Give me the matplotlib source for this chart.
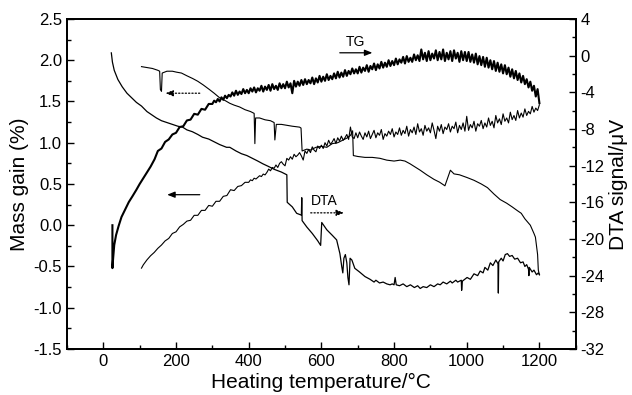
import matplotlib
matplotlib.use("Agg")
import matplotlib.pyplot as plt
from matplotlib.ticker import MultipleLocator

# ===========================
# DATA
# ===========================
# TG, heating run (mass gain %, left axis)
# low-temperature part, coarse steps
tg_heat_t_lo = [25, 25, 27, 30, 35, 42, 50, 60, 70, 80, 91, 100, 110, 120, 130, 141,
                150, 160, 170, 180, 190, 200, 210, 220, 230, 240, 250, 260, 270, 280, 290]
tg_heat_lo = [0.0, -0.52, -0.40, -0.24, -0.12, -0.01, 0.10, 0.19, 0.28, 0.35, 0.43, 0.50, 0.57, 0.64, 0.71, 0.80,
              0.90, 0.93, 1.01, 1.04, 1.10, 1.12, 1.19, 1.20, 1.27, 1.28, 1.35, 1.34, 1.41, 1.40, 1.47]
# 300..1200 degC, every 5 degC (noisy band)
tg_heat_t_hi = list(range(300, 1201, 5))
tg_heat_hi = [1.47, 1.51, 1.49, 1.53, 1.50, 1.55, 1.52, 1.57, 1.54, 1.58,
              1.56, 1.61, 1.57, 1.63, 1.58, 1.62, 1.59, 1.65, 1.60, 1.64,
              1.60, 1.66, 1.62, 1.67, 1.61, 1.66, 1.63, 1.69, 1.62, 1.68,
              1.64, 1.70, 1.63, 1.71, 1.65, 1.69, 1.64, 1.72, 1.66, 1.71,
              1.66, 1.74, 1.67, 1.72, 1.60, 1.75, 1.68, 1.74, 1.69, 1.76,
              1.70, 1.77, 1.71, 1.76, 1.72, 1.79, 1.71, 1.78, 1.73, 1.81,
              1.74, 1.80, 1.75, 1.83, 1.76, 1.81, 1.77, 1.84, 1.78, 1.86,
              1.79, 1.85, 1.80, 1.88, 1.81, 1.87, 1.83, 1.90, 1.84, 1.89,
              1.84, 1.92, 1.85, 1.91, 1.87, 1.94, 1.86, 1.93, 1.89, 1.96,
              1.88, 1.95, 1.90, 1.98, 1.91, 1.97, 1.92, 2.00, 1.93, 1.99,
              1.94, 2.02, 1.95, 2.01, 1.97, 2.04, 1.96, 2.05, 1.98, 2.03,
              1.98, 2.07, 2.00, 2.06, 1.99, 2.13, 2.01, 2.09, 1.99, 2.11,
              2.00, 2.08, 2.02, 2.12, 2.00, 2.10, 2.01, 2.13, 1.99, 2.09,
              2.01, 2.11, 1.99, 2.12, 2.02, 2.09, 1.98, 2.11, 2.00, 2.10,
              1.99, 2.10, 1.98, 2.07, 1.97, 2.08, 1.95, 2.05, 1.94, 2.04,
              1.92, 2.03, 1.91, 2.00, 1.89, 1.99, 1.87, 1.97, 1.86, 1.95,
              1.84, 1.94, 1.83, 1.91, 1.80, 1.89, 1.78, 1.87, 1.76, 1.84,
              1.73, 1.81, 1.71, 1.77, 1.67, 1.74, 1.63, 1.69, 1.56, 1.65,
              1.48]

# TG, cooling run (mass gain %, left axis)
tg_cool_t_lo = [105, 110, 120, 130, 140, 150, 160, 170, 180, 190, 200, 210, 220, 230, 240,
                250, 260, 270, 280, 290, 300, 310, 320, 330, 340, 350, 360, 370, 380, 390]
tg_cool_lo = [-0.52, -0.48, -0.42, -0.37, -0.33, -0.28, -0.24, -0.19, -0.16, -0.10, -0.08, -0.02, 0.01, 0.05, 0.06,
              0.12, 0.12, 0.18, 0.18, 0.24, 0.23, 0.29, 0.29, 0.35, 0.36, 0.43, 0.42, 0.47, 0.48, 0.52]
# 400..1200 degC, every 5 degC
tg_cool_t_hi = list(range(400, 1201, 5))
tg_cool_hi = [0.52, 0.55, 0.54, 0.57, 0.56, 0.58, 0.60, 0.59, 0.62, 0.61,
              0.64, 0.68, 0.66, 0.70, 0.69, 0.73, 0.70, 0.75, 0.77, 0.74,
              0.72, 0.81, 0.79, 0.83, 0.80, 0.86, 0.83, 0.85, 0.88, 0.84,
              0.79, 0.90, 0.87, 0.92, 0.88, 0.95, 0.91, 0.89, 0.96, 0.93,
              0.97, 0.93, 1.00, 0.96, 1.03, 0.98, 1.01, 1.05, 0.99, 1.06,
              1.02, 1.08, 1.03, 1.06, 1.10, 1.04, 1.19, 1.07, 1.05, 1.12,
              1.06, 1.13, 1.08, 1.04, 1.12, 1.07, 1.14, 1.05, 1.10, 1.15,
              1.06, 1.12, 1.09, 1.16, 1.04, 1.11, 1.08, 1.14, 1.10, 1.17,
              1.07, 1.13, 1.10, 1.18, 1.09, 1.15, 1.11, 1.20, 1.08, 1.16,
              1.12, 1.19, 1.10, 1.23, 1.13, 1.17, 1.09, 1.21, 1.14, 1.18,
              1.12, 1.24, 1.15, 1.05, 1.20, 1.14, 1.22, 1.11, 1.19, 1.16,
              1.23, 1.13, 1.20, 1.17, 1.25, 1.12, 1.21, 1.16, 1.24, 1.14,
              1.32, 1.15, 1.22, 1.18, 1.26, 1.14, 1.23, 1.20, 1.27, 1.17,
              1.24, 1.19, 1.30, 1.21, 1.26, 1.18, 1.33, 1.24, 1.29, 1.22,
              1.35, 1.26, 1.30, 1.24, 1.37, 1.28, 1.33, 1.27, 1.39, 1.30,
              1.36, 1.31, 1.41, 1.33, 1.38, 1.35, 1.44, 1.37, 1.42, 1.39,
              1.46]

# DTA, heating run (uV, right axis)
dta_heat_t = [22, 25, 30, 40, 52, 65, 78, 91, 105, 120, 135, 146, 160, 175, 190, 205, 218,
              230, 245, 260, 273, 290, 305, 320, 339, 348, 365, 380, 395, 410, 425, 439,
              455, 470, 490, 505, 506, 520, 532, 545, 546, 547, 560, 575, 590, 598, 601,
              615, 630, 642, 651, 656, 659, 662, 666, 670, 673, 676, 679, 684, 692, 705,
              720, 734, 745, 750, 760, 770, 780, 789, 795, 800, 803, 806, 815, 825, 835,
              845, 856, 865, 872, 880, 890, 900, 910, 920, 927, 935, 945, 955, 960, 970,
              975, 985, 986, 988, 1001, 1010, 1020, 1030, 1037, 1045, 1050, 1058, 1065,
              1072, 1080, 1086, 1087, 1088, 1095, 1100, 1106, 1112, 1118, 1125, 1132,
              1140, 1148, 1155, 1160, 1165, 1170, 1171, 1172, 1180, 1185, 1192, 1197, 1200]
dta_heat = [0.3, -0.7, -1.6, -2.6, -3.4, -4.1, -4.6, -5.1, -5.5, -6.1, -6.5, -6.8, -7.1, -7.3, -7.5, -7.7, -7.8,
            -8.1, -8.3, -8.6, -8.9, -9.1, -9.4, -9.7, -10.0, -10.0, -10.4, -10.7, -10.9, -11.2, -11.5, -11.8,
            -12.1, -12.4, -12.7, -13.0, -16.0, -16.5, -17.2, -17.4, -15.5, -18.0, -18.7, -19.4, -20.2, -20.7, -18.2,
            -19.0, -19.6, -20.1, -21.6, -23.0, -23.7, -22.1, -21.7, -22.6, -24.2, -25.0, -22.1, -22.3, -23.2, -23.6,
            -24.1, -24.4, -24.7, -24.5, -24.8, -24.7, -24.9, -25.0, -24.9, -25.0, -24.2, -25.0, -25.1, -24.9, -25.2,
            -25.0, -25.3, -25.1, -25.4, -25.2, -25.3, -25.0, -25.2, -24.9, -25.0, -24.7, -24.9, -24.6, -24.8, -24.5,
            -24.7, -24.5, -25.6, -24.6, -24.2, -24.4, -23.8, -24.0, -23.5, -23.7, -23.1, -23.4, -22.6,
            -22.9, -22.3, -22.7, -25.9, -22.5, -22.1, -22.4, -21.7, -21.6, -21.9, -21.8, -22.2,
            -22.1, -22.6, -22.5, -23.0, -22.8, -23.3, -24.0, -23.1, -23.6, -23.4, -23.9, -23.7, -23.9]

# DTA, cooling run (uV, right axis)
dta_cool_t = [105, 120, 135, 150, 155, 157, 160, 162, 175, 190, 201, 215, 230, 246, 260, 275,
              292, 305, 320, 335, 348, 360, 375, 390, 405, 415, 417, 419, 430, 445, 460, 470,
              472, 476, 490, 505, 520, 540, 544, 547, 560, 570, 585, 600, 615, 630, 645, 660,
              670, 680, 686, 688, 700, 720, 740, 761, 780, 800, 817, 830, 844, 860, 872, 890,
              910, 925, 940, 955, 965, 980, 1001, 1020, 1040, 1057, 1075, 1092, 1110, 1125,
              1139, 1150, 1160, 1175, 1185, 1189, 1195, 1197, 1200]
dta_cool = [-1.2, -1.3, -1.4, -1.6, -1.7, -3.7, -3.9, -1.9, -1.7, -1.7, -1.8, -1.9, -2.2, -2.5, -2.8, -3.2,
            -3.7, -4.1, -4.6, -4.9, -5.2, -5.4, -5.6, -5.9, -6.1, -6.3, -9.6, -6.8, -6.8, -7.0, -7.1, -7.3,
            -9.2, -7.5, -7.5, -7.6, -7.7, -7.8, -7.9, -10.4, -10.2, -10.3, -10.0, -9.9, -10.0, -9.6, -9.5, -9.2,
            -9.0, -8.7, -8.2, -10.9, -11.0, -11.1, -11.1, -11.2, -11.4, -11.5, -11.4, -11.5, -11.8, -12.2, -12.5, -13.0,
            -13.5, -13.8, -14.2, -12.5, -12.9, -13.0, -13.3, -13.6, -14.0, -14.4, -15.1, -15.7, -16.1, -16.5,
            -16.9, -17.2, -17.8, -18.5, -19.4, -19.8, -21.7, -23.4, -23.9]

# ===========================
# PLOT
# ===========================
plt.rcParams['font.family'] = ['Liberation Sans', 'DejaVu Sans']
plt.rcParams['axes.unicode_minus'] = False

fig = plt.figure(figsize=(6.32, 3.95), dpi=100)
ax = fig.add_axes([0.106, 0.1165, 0.805, 0.8355])
ax2 = ax.twinx()

ax.plot(tg_heat_t_lo + tg_heat_t_hi, tg_heat_lo + tg_heat_hi, color='black', lw=1.5)
ax.plot(tg_cool_t_lo + tg_cool_t_hi, tg_cool_lo + tg_cool_hi, color='black', lw=0.8)
ax2.plot(dta_heat_t, dta_heat, color='black', lw=0.9)
ax2.plot(dta_cool_t, dta_cool, color='black', lw=0.8)

ax.set_xlim(-100, 1300)
ax.set_ylim(-1.5, 2.5)
ax2.set_ylim(-32, 4)

ax.xaxis.set_major_locator(MultipleLocator(200))
ax.xaxis.set_minor_locator(MultipleLocator(100))
ax.yaxis.set_major_locator(MultipleLocator(0.5))
ax.yaxis.set_minor_locator(MultipleLocator(0.25))
ax2.yaxis.set_major_locator(MultipleLocator(4))
ax2.yaxis.set_minor_locator(MultipleLocator(2))

ax.tick_params(which='both', direction='in', top=False, right=False, labelsize=12, width=1)
ax.tick_params(which='major', length=5)
ax.tick_params(which='minor', length=3)
ax2.tick_params(which='both', direction='in', labelsize=12, width=1)
ax2.tick_params(which='major', length=5)
ax2.tick_params(which='minor', length=3)

for a in (ax, ax2):
    for sp in a.spines.values():
        sp.set_linewidth(1.3)

ax.set_xlabel("Heating temperature/°C", fontsize=15)
ax.set_ylabel("Mass gain (%)", fontsize=15)
ax2.set_ylabel("DTA signal/μV", fontsize=15)
ax.xaxis.set_label_coords(0.5, -0.072)
ax.yaxis.set_label_coords(-0.075, 0.5)
ax2.yaxis.set_label_coords(1.066, 0.5)

# arrows and labels
head = '-|>,head_length=0.45,head_width=0.18'
ax.annotate('', xy=(748, 2.09), xytext=(643, 2.09),
            arrowprops=dict(arrowstyle=head, color='black', lw=0.9))
ax.text(695, 2.22, "TG", ha='center', va='center', fontsize=10)
ax.annotate('', xy=(163, 1.60), xytext=(273, 1.60),
            arrowprops=dict(arrowstyle=head, color='black', lw=0.9, ls=':'))
ax.annotate('', xy=(168, 0.37), xytext=(273, 0.37),
            arrowprops=dict(arrowstyle=head, color='black', lw=0.9))
ax.annotate('', xy=(670, 0.15), xytext=(563, 0.15),
            arrowprops=dict(arrowstyle=head, color='black', lw=0.9, ls=':'))
ax.text(607, 0.29, "DTA", ha='center', va='center', fontsize=10)

fig.savefig("out.png", dpi=100)
